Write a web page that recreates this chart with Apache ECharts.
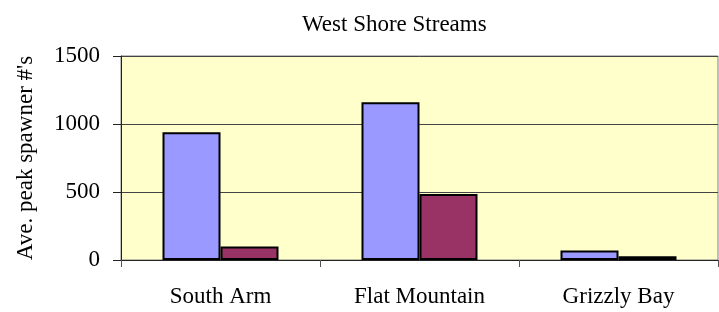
<!DOCTYPE html>
<html>
<head>
<meta charset="utf-8">
<script src="https://cdn.jsdelivr.net/npm/echarts@6/dist/echarts.min.js"></script>
<style>
  html, body { margin: 0; padding: 0; background: #fff; }
  #chart { width: 719px; height: 312px; }
</style>
</head>
<body>
<div id="chart"></div>
<script>
// 数据
var categories = ["South Arm", "Flat Mountain", "Grizzly Bay"];
var seriesA = [940, 1160, 70];
var seriesB = [100, 485, 27];
var yTicks = [0, 500, 1000, 1500];

var serif = '"Liberation Serif", "Times New Roman", serif';

var chart = echarts.init(document.getElementById("chart"));
chart.setOption({
  animation: false,
  title: {
    text: "West Shore Streams",
    left: 297,
    top: 8,
    textStyle: { fontFamily: serif, fontSize: 23, fontWeight: "normal", color: "#000" }
  },
  grid: {
    left: 121,
    right: 1,
    top: 56,
    bottom: 52,
    show: true,
    backgroundColor: "#FFFFCC",
    borderColor: "#808080",
    borderWidth: 1
  },
  xAxis: {
    type: "category",
    data: categories,
    axisLine: { lineStyle: { color: "#222", width: 1 } },
    axisTick: { show: true, length: 7, lineStyle: { color: "#555" } },
    axisLabel: { margin: 25, color: "#000", fontFamily: serif, fontSize: 23 }
  },
  yAxis: {
    type: "value",
    min: yTicks[0],
    max: yTicks[yTicks.length - 1],
    interval: 500,
    name: "Ave. peak spawner #'s",
    nameLocation: "middle",
    nameGap: 84,
    nameTextStyle: { fontFamily: serif, fontSize: 23, color: "#000" },
    axisLine: { show: true, lineStyle: { color: "#222", width: 1 } },
    axisTick: { show: true, length: 8, lineStyle: { color: "#222" } },
    axisLabel: {
      margin: 21,
      color: "#000",
      fontFamily: serif,
      fontSize: 23,
      formatter: function (v) { return String(v); }
    },
    splitLine: { show: true, lineStyle: { color: "#444", width: 1 } }
  },
  series: [
    {
      type: "bar",
      data: seriesA,
      barWidth: 58,
      barGap: "0%",
      itemStyle: { color: "#9999FF", borderColor: "#000", borderWidth: 2 }
    },
    {
      type: "bar",
      data: seriesB,
      barWidth: 58,
      itemStyle: { color: "#993366", borderColor: "#000", borderWidth: 2 }
    }
  ]
});
</script>
</body>
</html>
